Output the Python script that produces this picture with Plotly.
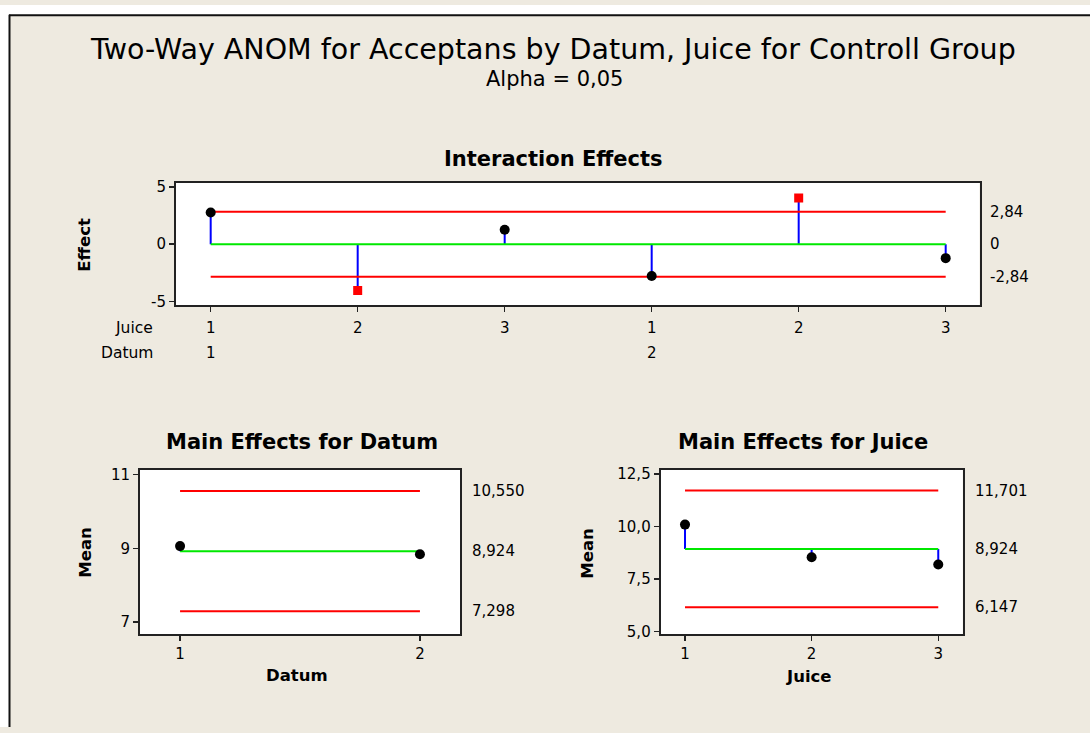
import plotly.graph_objects as go

# ---------------- data ----------------
# Interaction effects (Datum x Juice)
inter_juice = ["1", "2", "3", "1", "2", "3"]
inter_datum = ["1", "", "", "2", "", ""]
inter_pos = [1, 2, 3, 4, 5, 6]
inter_effect = [2.78, -4.05, 1.27, -2.78, 4.05, -1.22]
inter_limits = [2.84, -2.84]
inter_center = 0.0
inter_limit_labels = ["2,84", "0", "-2,84"]
inter_yticks = [-5, 0, 5]
inter_yticktext = ["-5", "0", "5"]

# Main effects for Datum
datum_levels = [1, 2]
datum_means = [9.06, 8.84]
datum_limits = [10.550, 7.298]
datum_center = 8.924
datum_limit_labels = ["10,550", "8,924", "7,298"]
datum_yticks = [7, 9, 11]
datum_yticktext = ["7", "9", "11"]

# Main effects for Juice
juice_levels = [1, 2, 3]
juice_means = [10.08, 8.53, 8.18]
juice_limits = [11.701, 6.147]
juice_center = 8.924
juice_limit_labels = ["11,701", "8,924", "6,147"]
juice_yticks = [5.0, 7.5, 10.0, 12.5]
juice_yticktext = ["5,0", "7,5", "10,0", "12,5"]

alpha_text = "Alpha = 0,05"

# ---------------- style ----------------
W, H = 1090, 733
BG = "#EEEAE0"
FONT = "DejaVu Sans"
RED = "#FF0000"
GREEN = "#00E800"
BLUE = "#0000FF"
AX = "#222222"


def px(x):
    return x / W


def py(y):
    return 1 - y / H


fig = go.Figure()


def add_anom(xs, vals, center, limits, xa, ya):
    # stems from the centre line to each point
    sx, sy = [], []
    for x, v in zip(xs, vals):
        sx += [x, x, None]
        sy += [center, v, None]
    fig.add_trace(go.Scatter(x=sx, y=sy, mode="lines", line=dict(color=BLUE, width=2),
                             xaxis=xa, yaxis=ya, hoverinfo="skip"))
    # centre line
    fig.add_trace(go.Scatter(x=[xs[0], xs[-1]], y=[center, center], mode="lines",
                             line=dict(color=GREEN, width=2), xaxis=xa, yaxis=ya))
    # decision limits
    for lim in limits:
        fig.add_trace(go.Scatter(x=[xs[0], xs[-1]], y=[lim, lim], mode="lines",
                                 line=dict(color=RED, width=2), xaxis=xa, yaxis=ya))
    # points: inside = black circle, outside = red square
    up, lo = max(limits), min(limits)
    ix = [x for x, v in zip(xs, vals) if lo <= v <= up]
    iv = [v for v in vals if lo <= v <= up]
    ox = [x for x, v in zip(xs, vals) if not (lo <= v <= up)]
    ov = [v for v in vals if not (lo <= v <= up)]
    fig.add_trace(go.Scatter(x=ix, y=iv, mode="markers",
                             marker=dict(color="black", size=10, symbol="circle"),
                             xaxis=xa, yaxis=ya))
    if ox:
        fig.add_trace(go.Scatter(x=ox, y=ov, mode="markers",
                                 marker=dict(color=RED, size=9, symbol="square"),
                                 xaxis=xa, yaxis=ya))


add_anom(inter_pos, inter_effect, inter_center, inter_limits, "x", "y")
add_anom(datum_levels, datum_means, datum_center, datum_limits, "x2", "y2")
add_anom(juice_levels, juice_means, juice_center, juice_limits, "x3", "y3")

axis_common = dict(showline=True, mirror=True, linecolor=AX, linewidth=2,
                   ticks="outside", ticklen=5, tickwidth=1.5, tickcolor=AX,
                   showgrid=False, zeroline=False, fixedrange=True,
                   tickfont=dict(family=FONT, size=15, color="black"))

fig.update_layout(
    width=W, height=H,
    margin=dict(l=0, r=0, t=0, b=0, pad=0),
    paper_bgcolor=BG, plot_bgcolor="white",
    showlegend=False,
    font=dict(family=FONT, color="black"),
    xaxis=dict(axis_common, domain=[px(176), px(979.5)], range=[0.764, 6.23],
               tickvals=inter_pos, showticklabels=False, anchor="y"),
    yaxis=dict(axis_common, domain=[py(305), py(180.7)], range=[-5.36, 5.36],
               tickvals=inter_yticks, ticktext=inter_yticktext, anchor="x"),
    xaxis2=dict(axis_common, domain=[px(140), px(460)], range=[0.833, 2.167],
                tickvals=datum_levels, ticktext=[str(v) for v in datum_levels], anchor="y2"),
    yaxis2=dict(axis_common, domain=[py(639), py(471.7)], range=[6.67, 11.13],
                tickvals=datum_yticks, ticktext=datum_yticktext, anchor="x2"),
    xaxis3=dict(axis_common, domain=[px(660.7), px(962.7)], range=[0.808, 3.193],
                tickvals=juice_levels, ticktext=[str(v) for v in juice_levels], anchor="y3"),
    yaxis3=dict(axis_common, domain=[py(639), py(471.7)], range=[4.85, 12.70],
                tickvals=juice_yticks, ticktext=juice_yticktext, anchor="x3"),
)

ann = []


def text(x, y, s, size, bold=False, angle=0, xanchor="center", xref="paper", yref="paper"):
    ann.append(dict(x=x, y=y, xref=xref, yref=yref, text=("<b>%s</b>" % s) if bold else s,
                    showarrow=False, xanchor=xanchor, yanchor="middle", textangle=angle,
                    font=dict(family=FONT, size=size, color="black")))


# titles
text(px(553), py(45), "Two-Way ANOM for Acceptans by Datum, Juice for Controll Group", 28.5)
text(px(554), py(75), alpha_text, 21)
text(px(553.8), py(156.7), "Interaction Effects", 21, bold=True)
text(px(301.7), py(443.3), "Main Effects for Datum", 21, bold=True)
text(px(803), py(443.6), "Main Effects for Juice", 21, bold=True)

# axis titles
text(px(85), py(243.3), "Effect", 16.5, bold=True, angle=-90)
text(px(86), py(556), "Mean", 16.5, bold=True, angle=-90)
text(px(588), py(557), "Mean", 16.5, bold=True, angle=-90)
text(px(297.3), py(681), "Datum", 16.5, bold=True)
text(px(809), py(682), "Juice", 16.5, bold=True)

# interaction x labels (two rows)
text(px(155), py(328), "Juice", 15.5, xanchor="right")
text(px(155), py(353), "Datum", 15.5, xanchor="right")
for p, j, d in zip(inter_pos, inter_juice, inter_datum):
    text(p, py(328), j, 15, xref="x")
    if d:
        text(p, py(353), d, 15, xref="x")

# limit labels on the right
for v, s in zip([inter_limits[0], inter_center, inter_limits[1]], inter_limit_labels):
    text(px(988), v, s, 15, xanchor="left", yref="y")
for v, s in zip([datum_limits[0], datum_center, datum_limits[1]], datum_limit_labels):
    text(px(470), v, s, 15, xanchor="left", yref="y2")
for v, s in zip([juice_limits[0], juice_center, juice_limits[1]], juice_limit_labels):
    text(px(973), v, s, 15, xanchor="left", yref="y3")

fig.update_layout(annotations=ann)

# window frame: white outside strip + dark border
fig.update_layout(shapes=[
    dict(type="rect", xref="paper", yref="paper", x0=0, x1=1, y0=py(10), y1=1,
         fillcolor="white", line=dict(width=0), layer="below"),
    dict(type="rect", xref="paper", yref="paper", x0=0, x1=px(9), y0=0, y1=1,
         fillcolor="white", line=dict(width=0), layer="below"),
    dict(type="line", xref="paper", yref="paper", x0=px(9), x1=1, y0=py(10.5), y1=py(10.5),
         line=dict(color="#111111", width=2)),
    dict(type="line", xref="paper", yref="paper", x0=px(9.5), x1=px(9.5), y0=0, y1=py(10),
         line=dict(color="#111111", width=2)),
])

fig.write_html(
    "out.html",
    config={"displayModeBar": False, "staticPlot": True},
    post_script=(
        "document.documentElement.style.margin='0';"
        "document.body.style.margin='0';document.body.style.padding='0';"
        "document.body.style.overflow='hidden';"
        "var d=document.querySelector('.plotly-graph-div');"
        "d.style.position='absolute';d.style.left='0px';d.style.top='0px';"
    ),
)
